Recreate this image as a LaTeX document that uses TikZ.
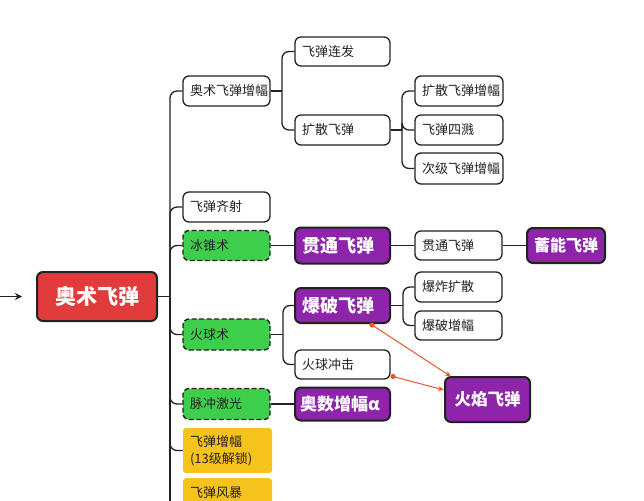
\documentclass[tikz,border=0pt]{standalone}
\usepackage{fontspec}
\setmainfont{Noto Sans CJK SC}
\usetikzlibrary{arrows.meta,calc}
\definecolor{ink}{HTML}{222222}
\definecolor{redf}{HTML}{E23B3B}
\definecolor{purf}{HTML}{8E24AA}
\definecolor{grnf}{HTML}{3DCF4C}
\definecolor{yelf}{HTML}{F6C21C}
\definecolor{orng}{HTML}{E8562A}
\tikzset{
  base/.style={rectangle, rounded corners=6pt, inner xsep=7pt, inner ysep=0pt, align=left, text=ink, font=\fontsize{13}{15}\selectfont},
  wbox/.style={base, draw=ink, line width=1.3pt, fill=white},
  pbox/.style={base, draw=ink, line width=2pt, fill=purf, text=white, font=\fontsize{18}{20}\selectfont\bfseries},
  gbox/.style={base, draw=ink, line width=1.4pt, dashed, dash pattern=on 5pt off 2.5pt, fill=grnf},
  ybox/.style={base, rounded corners=3pt, fill=yelf, font=\fontsize{13}{17}\selectfont},
  rbox/.style={base, draw=ink, line width=2pt, fill=redf, text=white, align=center, font=\fontsize{21}{23}\selectfont\bfseries},
  conn/.style={draw=ink, line width=1.3pt, rounded corners=7pt},
  oarr/.style={draw=orng, line width=1pt, -{Stealth[length=6pt,width=5pt]}},
}
\begin{document}
\begin{tikzpicture}[x=1pt,y=-1pt]
\useasboundingbox (0,0) rectangle (644,500);
\clip (0,0) rectangle (644,500);
\fill[white] (0,0) rectangle (644,500);
% root
\node[rbox, minimum width=120pt, minimum height=49pt, text width=106pt] (root) at (97,296.5) {奥术飞弹};
\coordinate (s0) at (0,296.5);
\coordinate (s1) at (22,296.5);
\draw[ink, line width=1.4pt, -{Stealth[length=7pt,width=7pt]}] (s0) -- (s1);
% level 1
\node[wbox, minimum width=87pt, minimum height=30pt, text width=73pt] (a1) at (226.5,91) {奥术飞弹增幅};
\node[wbox, minimum width=87pt, minimum height=30pt, text width=73pt] (a2) at (226.5,207) {飞弹齐射};
\node[gbox, minimum width=87pt, minimum height=30pt, text width=73pt] (a3) at (226.5,245.5) {冰锥术};
\node[gbox, minimum width=87pt, minimum height=31pt, text width=73pt] (a4) at (226.5,334.5) {火球术};
\node[gbox, minimum width=87pt, minimum height=31pt, text width=73pt] (a5) at (226.5,404) {脉冲激光};
\node[ybox, minimum width=89pt, minimum height=45pt, text width=75pt] (a6) at (227.5,450.5) {飞弹增幅\\(13级解锁)};
\node[ybox, minimum width=89pt, minimum height=28pt, text width=75pt, anchor=north] (a7) at (227.5,478) {飞弹风暴};
% level 2
\node[wbox, minimum width=95pt, minimum height=29pt, text width=81pt] (b1) at (342.5,51.5) {飞弹连发};
\node[wbox, minimum width=95pt, minimum height=30pt, text width=81pt] (b2) at (342.5,130) {扩散飞弹};
\node[pbox, minimum width=95pt, minimum height=36pt, text width=81pt] (d1) at (342.5,245.5) {贯通飞弹};
\node[pbox, minimum width=95pt, minimum height=35pt, text width=81pt] (e1) at (342.5,305.5) {爆破飞弹};
\node[wbox, minimum width=95pt, minimum height=29pt, text width=81pt] (e2) at (342.5,364.5) {火球冲击};
\node[pbox, minimum width=95pt, minimum height=33pt, text width=81pt, inner xsep=5pt, text width=85pt, font=\fontsize{17}{19}\selectfont\bfseries] (g1) at (342.5,404) {奥数增幅α};
% level 3
\node[wbox, minimum width=88pt, minimum height=30pt, text width=74pt] (c1) at (459,91) {扩散飞弹增幅};
\node[wbox, minimum width=88pt, minimum height=30pt, text width=74pt] (c2) at (459,130) {飞弹四溅};
\node[wbox, minimum width=88pt, minimum height=31pt, text width=74pt] (c3) at (459,168.5) {次级飞弹增幅};
\node[wbox, minimum width=87pt, minimum height=29pt, text width=73pt] (d2) at (458.5,245.5) {贯通飞弹};
\node[wbox, minimum width=87pt, minimum height=30pt, text width=73pt] (f1) at (458.5,287) {爆炸扩散};
\node[wbox, minimum width=87pt, minimum height=29pt, text width=73pt] (f2) at (458.5,325.5) {爆破增幅};
\node[pbox, minimum width=78pt, minimum height=35pt, text width=68pt, inner xsep=5pt, align=center, font=\fontsize{16}{18}\selectfont\bfseries] (d3) at (566,245.5) {蓄能飞弹};
\node[pbox, minimum width=85pt, minimum height=45pt, text width=71pt, align=center, font=\fontsize{16.5}{18}\selectfont\bfseries] (h) at (487.5,399.5) {火焰飞弹};
% trunk
\coordinate (t0) at (170,296.5);
\coordinate (tb) at (170,510);
\draw[conn] (root.east) -- (t0);
\draw[conn] (t0) |- (a1.west);
\draw[conn] (t0) |- (a2.west);
\draw[conn] (t0) |- (a3.west);
\draw[conn] (t0) |- (a4.west);
\draw[conn] (t0) |- (a5.west);
\draw[conn] (t0) |- (a6.west);
\draw[conn] (t0) -- (tb);
% a1 branch
\coordinate (j1) at (282,91);
\draw[conn] (a1.east) -- (j1);
\draw[conn] (j1) |- (b1.west);
\draw[conn] (j1) |- (b2.west);
% b2 branch
\coordinate (j2) at (402,130);
\draw[conn] (b2.east) -- (j2);
\draw[conn] (j2) |- (c1.west);
\draw[conn] (j2) |- (c2.west);
\draw[conn] (j2) |- (c3.west);
% ice
\draw[conn] (a3.east) -- (d1.west);
\draw[conn] (d1.east) -- (d2.west);
\draw[conn] (d2.east) -- (d3.west);
% fire
\coordinate (j3) at (283,334.5);
\draw[conn] (a4.east) -- (j3);
\draw[conn] (j3) |- (e1.west);
\draw[conn] (j3) |- (e2.west);
\coordinate (j4) at (403,305.5);
\draw[conn] (e1.east) -- (j4);
\draw[conn] (j4) |- (f1.west);
\draw[conn] (j4) |- (f2.west);
% pulse
\draw[conn] (a5.east) -- (g1.west);
% orange arrows
\coordinate (o1) at (372,325);
\coordinate (o2) at (451,376.5);
\coordinate (o3) at (393,376.5);
\coordinate (o4) at (444,390);
\draw[oarr] (o1) -- (o2);
\draw[oarr] (o3) -- (o4);
\fill[orng] (o1) circle (2.6pt);
\fill[orng] (o3) circle (2.6pt);
\end{tikzpicture}
\end{document}
